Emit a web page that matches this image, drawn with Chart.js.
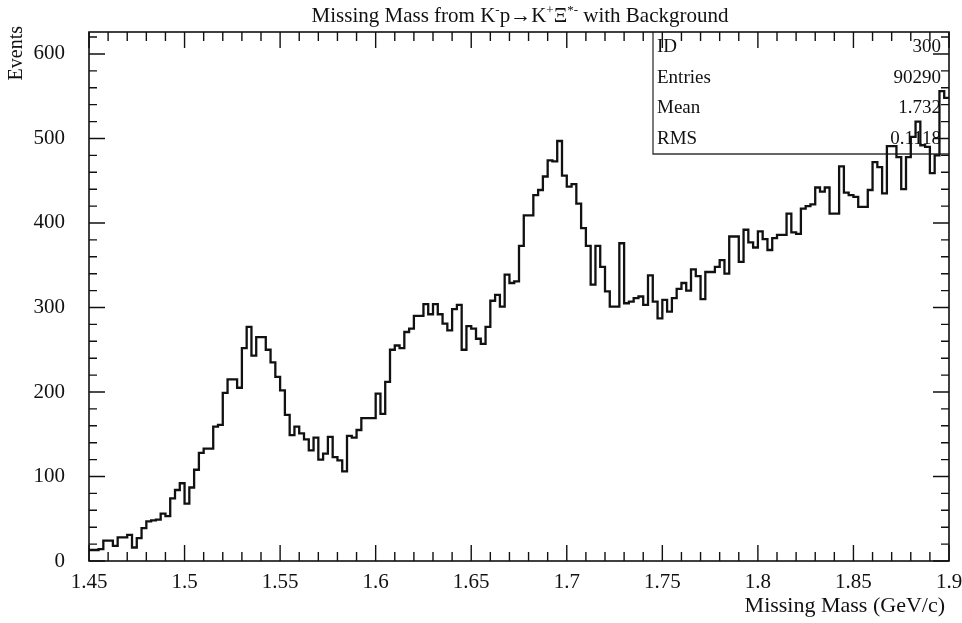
<!DOCTYPE html>
<html>
<head>
<meta charset="utf-8">
<script src="https://cdn.jsdelivr.net/npm/chart.js@4.4.1/dist/chart.umd.min.js"></script>
<style>
  html, body { margin: 0; padding: 0; background: #fff; }
  canvas { display: block; }
</style>
</head>
<body>
<canvas id="chart" width="962" height="623"></canvas>
<script>
// histogram contents, 180 bins of 0.0025 GeV from 1.45
const counts = [
    13, 13, 14, 24, 24, 18, 28, 28, 31, 16,
    27, 39, 47, 48, 49, 56, 53, 74, 84, 92,
    68, 87, 108, 128, 133, 133, 159, 161, 199, 215,
    215, 205, 252, 277, 243, 265, 265, 250, 235, 218,
    202, 173, 149, 159, 151, 144, 131, 146, 120, 127,
    147, 123, 119, 106, 148, 146, 155, 169, 169, 169,
    198, 174, 212, 250, 255, 252, 271, 275, 290, 290,
    304, 292, 304, 292, 281, 273, 298, 303, 250, 278,
    275, 263, 257, 277, 308, 315, 301, 339, 329, 331,
    373, 409, 409, 433, 439, 455, 474, 473, 497, 456,
    443, 446, 423, 394, 373, 327, 373, 348, 319, 301,
    301, 376, 305, 307, 311, 313, 303, 338, 307, 287,
    309, 295, 311, 322, 329, 320, 345, 337, 310, 342,
    342, 348, 356, 340, 384, 384, 354, 392, 377, 371,
    390, 381, 368, 382, 386, 386, 411, 389, 387, 417,
    420, 422, 442, 437, 442, 411, 411, 467, 436, 433,
    431, 419, 419, 439, 472, 466, 435, 491, 491, 478,
    440, 478, 502, 520, 492, 490, 459, 480, 556, 548
];
const binStart = 1.45;
const binWidth = 0.0025;

const xTickLabels = [1.45, 1.5, 1.55, 1.6, 1.65, 1.7, 1.75, 1.8, 1.85, 1.9];
const yTickLabels = [0, 100, 200, 300, 400, 500, 600];

const statNames = ['ID', 'Entries', 'Mean', 'RMS'];
const statValues = ['300', '90290', '1.732', '0.1118'];

// left edge of every bin, plus the closing edge
const points = counts.map((c, i) => ({ x: binStart + i * binWidth, y: c }));
points.push({ x: binStart + counts.length * binWidth, y: counts[counts.length - 1] });

const serif = '"Liberation Serif", "DejaVu Serif", serif';
const ink = '#111';

function drawTitle(ctx) {
    const parts = [
        { t: 'Missing Mass from K' }, { t: '-', sup: true },
        { t: 'p\u2192K' }, { t: '+', sup: true },
        { t: '\u039E' }, { t: '*-', sup: true },
        { t: ' with Background' }
    ];
    const big = '21px ' + serif, small = '13px ' + serif;
    let w = 0;
    parts.forEach(p => { ctx.font = p.sup ? small : big; w += ctx.measureText(p.t).width; });
    let x = 520 - w / 2;
    ctx.textAlign = 'left';
    ctx.textBaseline = 'alphabetic';
    parts.forEach(p => {
        ctx.font = p.sup ? small : big;
        ctx.fillText(p.t, x, p.sup ? 14 : 22);
        x += ctx.measureText(p.t).width;
    });
}

const frame = {
    id: 'frame',

    beforeDatasetsDraw(chart) {
        const ctx = chart.ctx;
        const a = chart.chartArea;
        const boxLeft = 653, boxBottom = 154;
        ctx.save();
        ctx.strokeStyle = '#333';
        ctx.lineWidth = 1.3;
        ctx.beginPath();
        ctx.moveTo(boxLeft, a.top);
        ctx.lineTo(boxLeft, boxBottom);
        ctx.lineTo(a.right, boxBottom);
        ctx.stroke();

        ctx.fillStyle = ink;
        ctx.font = '19px ' + serif;
        ctx.textBaseline = 'middle';
        const rowH = (boxBottom - a.top) / statNames.length;
        statNames.forEach((n, i) => {
            const y = a.top + rowH * (i + 0.5);
            ctx.textAlign = 'left';
            ctx.fillText(n, boxLeft + 4, y);
            ctx.textAlign = 'right';
            ctx.fillText(statValues[i], a.right - 8, y);
        });
        ctx.restore();
    },

    afterDraw(chart) {
        const ctx = chart.ctx;
        const a = chart.chartArea;
        const xs = chart.scales.x, ys = chart.scales.y;
        ctx.save();
        ctx.strokeStyle = ink;
        ctx.lineWidth = 1.6;
        ctx.strokeRect(a.left, a.top, a.right - a.left, a.bottom - a.top);

        ctx.lineWidth = 1.4;
        ctx.beginPath();
        for (let k = 0; k <= 45; k++) {
            const px = xs.getPixelForValue(binStart + k * 0.01);
            const len = k % 5 === 0 ? 16 : 9;
            ctx.moveTo(px, a.bottom); ctx.lineTo(px, a.bottom - len);
            ctx.moveTo(px, a.top); ctx.lineTo(px, a.top + len);
        }
        for (let v = 0; v <= 620; v += 20) {
            const py = ys.getPixelForValue(v);
            const len = v % 100 === 0 ? 16 : 8;
            ctx.moveTo(a.left, py); ctx.lineTo(a.left + len, py);
            ctx.moveTo(a.right, py); ctx.lineTo(a.right - len, py);
        }
        ctx.stroke();

        ctx.fillStyle = ink;
        drawTitle(ctx);

        ctx.font = '22px ' + serif;
        ctx.textAlign = 'right';
        ctx.textBaseline = 'alphabetic';
        ctx.fillText('Missing Mass (GeV/c)', 945, 612);

        ctx.translate(17, 26);
        ctx.rotate(-Math.PI / 2);
        ctx.textAlign = 'right';
        ctx.textBaseline = 'middle';
        ctx.font = '20px ' + serif;
        ctx.fillText('Events', 0, 0);
        ctx.restore();
    }
};

new Chart(document.getElementById('chart'), {
    type: 'line',
    data: {
        datasets: [{
            data: points,
            stepped: true,
            borderColor: ink,
            borderWidth: 2.3,
            pointRadius: 0,
            fill: false,
            tension: 0
        }]
    },
    options: {
        responsive: false,
        animation: false,
        devicePixelRatio: 1,
        layout: { padding: { top: 32, right: 13, left: 0, bottom: 0 } },
        plugins: {
            legend: { display: false },
            tooltip: { enabled: false },
            title: { display: false }
        },
        scales: {
            x: {
                type: 'linear',
                min: 1.45,
                max: 1.9,
                grid: { display: false, drawTicks: false },
                border: { display: false },
                afterBuildTicks: s => { s.ticks = xTickLabels.map(v => ({ value: v })); },
                afterFit: s => { s.height = 62; s.paddingLeft = 0; s.paddingRight = 0; },
                ticks: {
                    color: ink,
                    font: { family: serif, size: 21 },
                    padding: 9,
                    maxRotation: 0,
                    autoSkip: false,
                    callback: v => String(v)
                }
            },
            y: {
                min: 0,
                max: 626,
                grid: { display: false, drawTicks: false },
                border: { display: false },
                afterBuildTicks: s => { s.ticks = yTickLabels.map(v => ({ value: v })); },
                afterFit: s => { s.width = 89; s.paddingTop = 0; s.paddingBottom = 0; },
                ticks: {
                    color: ink,
                    font: { family: serif, size: 21 },
                    padding: 24,
                    callback: v => String(v)
                }
            }
        }
    },
    plugins: [frame]
});
</script>
</body>
</html>
